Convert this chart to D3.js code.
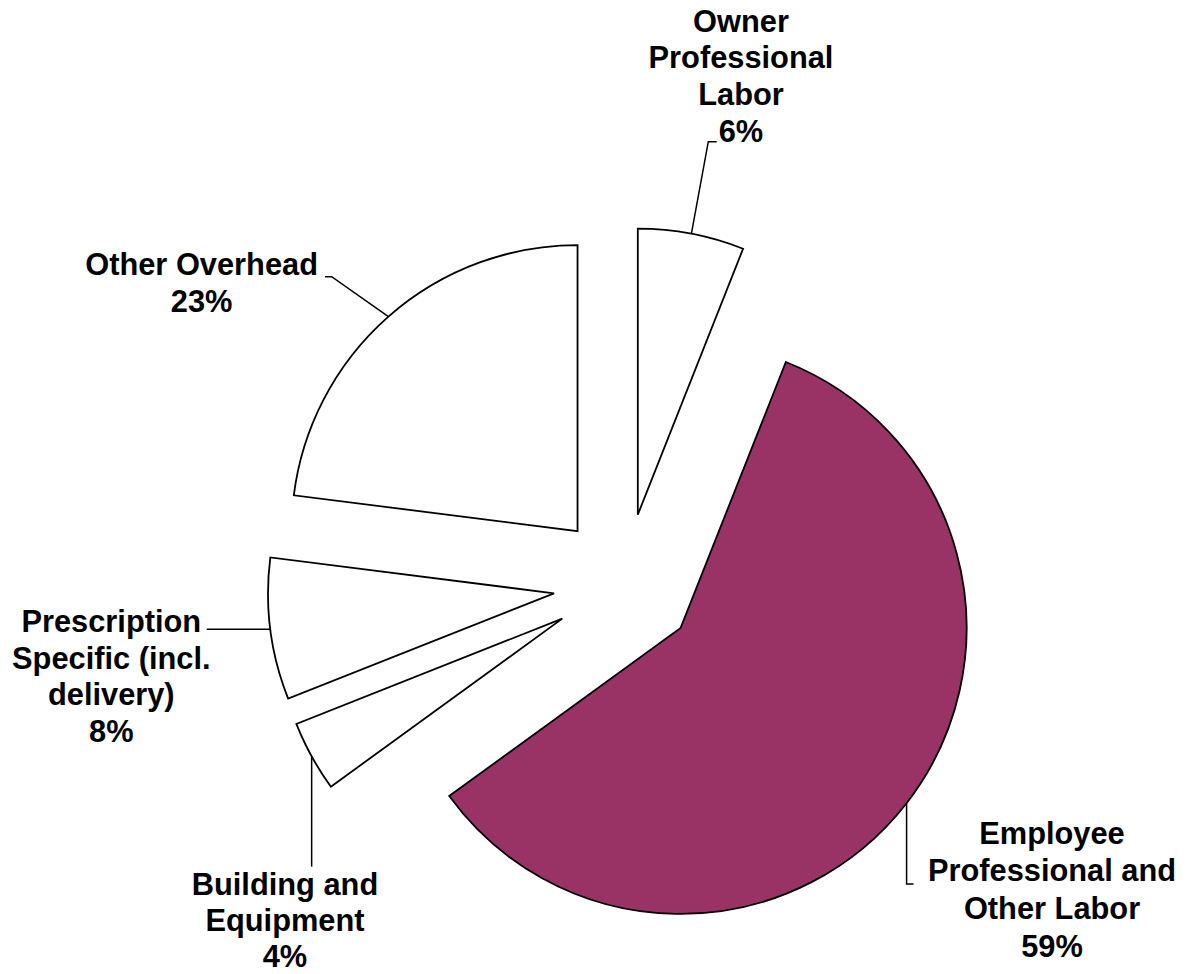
<!DOCTYPE html>
<html>
<head>
<meta charset="utf-8">
<script src="https://cdn.jsdelivr.net/npm/d3@7"></script>
<style>
  html, body { margin: 0; padding: 0; background: #ffffff; }
  svg { display: block; }
  .label text { font-family: "Liberation Sans", Arial, sans-serif; font-weight: bold; font-size: 30.8px; fill: #000; }
</style>
</head>
<body>
<svg id="chart" width="1190" height="974"></svg>
<script>
// Cost shares, clockwise from 12 o'clock
const categories = [
  "Owner Professional Labor",
  "Employee Professional and Other Labor",
  "Building and Equipment",
  "Prescription Specific (incl. delivery)",
  "Other Overhead"
];
const shares = [6, 59, 4, 8, 23];
const labelLines = [
  ["Owner", "Professional", "Labor"],
  ["Employee", "Professional and", "Other Labor"],
  ["Building and", "Equipment"],
  ["Prescription", "Specific (incl.", "delivery)"],
  ["Other Overhead"]
];

// Styling and placement
const sliceFills = ["#ffffff", "#993366", "#ffffff", "#ffffff", "#ffffff"];
const pieCenter = [624.5, 584.4];
const radius = 286;
const explode = 71;
const lineHeight = 36.8;
// label block: centre x, first baseline y
// leader: bends after the arc midpoint; null keeps the rim's x or y so segments stay axis-aligned
const labelLayout = [
  { x: 741, y: 31.5, leader: [[708.3, 141.7], [716.7, 141.7]] },
  { x: 1052, y: 843.5, lh: 37.7, leader: [[null, 884], [7, 0, "rel"]] },
  { x: 285, y: 895, lh: 36, leader: [[null, 866.7]] },
  { x: 111.3, y: 631.7, leader: [[206.7, null]] },
  { x: 201.6, y: 275, leader: [[331.7, 276.7], [325, 276.7]] }
];

const data = categories.map((name, i) => ({ name, value: shares[i], lines: labelLines[i] }));

const svg = d3.select("#chart");
const root = svg.append("g").attr("transform", `translate(${pieCenter[0]},${pieCenter[1]})`);

const pie = d3.pie().value(d => d.value).sort(null).startAngle(0).endAngle(2 * Math.PI);
const arc = d3.arc().innerRadius(0).outerRadius(radius);
const arcs = pie(data);

// offset of each exploded slice along its mid angle
const offset = a => {
  const m = (a.startAngle + a.endAngle) / 2;
  return [explode * Math.sin(m), -explode * Math.cos(m)];
};
const rimPoint = a => {
  const m = (a.startAngle + a.endAngle) / 2;
  const o = offset(a);
  return [pieCenter[0] + o[0] + radius * Math.sin(m), pieCenter[1] + o[1] - radius * Math.cos(m)];
};

root.selectAll("path.slice")
  .data(arcs)
  .join("path")
  .attr("class", "slice")
  .attr("transform", d => `translate(${offset(d)})`)
  .attr("d", arc)
  .attr("fill", (d, i) => sliceFills[i])
  .attr("stroke", "#000")
  .attr("stroke-width", 1.8)
  .attr("stroke-linejoin", "miter");

// leader lines from the arc midpoint to the label
const line = d3.line();
const leaderPoints = (d, i) => {
  const pts = [rimPoint(d)];
  labelLayout[i].leader.forEach(b => {
    const prev = pts[pts.length - 1];
    if (b[2] === "rel") pts.push([prev[0] + b[0], prev[1] + b[1]]);
    else pts.push([b[0] == null ? prev[0] : b[0], b[1] == null ? prev[1] : b[1]]);
  });
  return pts;
};
svg.selectAll("path.leader")
  .data(arcs)
  .join("path")
  .attr("class", "leader")
  .attr("d", (d, i) => line(leaderPoints(d, i)))
  .attr("fill", "none")
  .attr("stroke", "#000")
  .attr("stroke-width", 1.5);

// category labels with percentage
const labels = svg.selectAll("g.label")
  .data(arcs)
  .join("g")
  .attr("class", "label");

labels.each(function(d, i) {
  const L = labelLayout[i];
  const lh = L.lh || lineHeight;
  const rows = [...d.data.lines, `${d.data.value}%`];
  d3.select(this).selectAll("text")
    .data(rows)
    .join("text")
    .attr("x", L.x)
    .attr("y", (r, k) => L.y + k * lh)
    .attr("text-anchor", "middle")
    .text(r => r);
});
</script>
</body>
</html>
